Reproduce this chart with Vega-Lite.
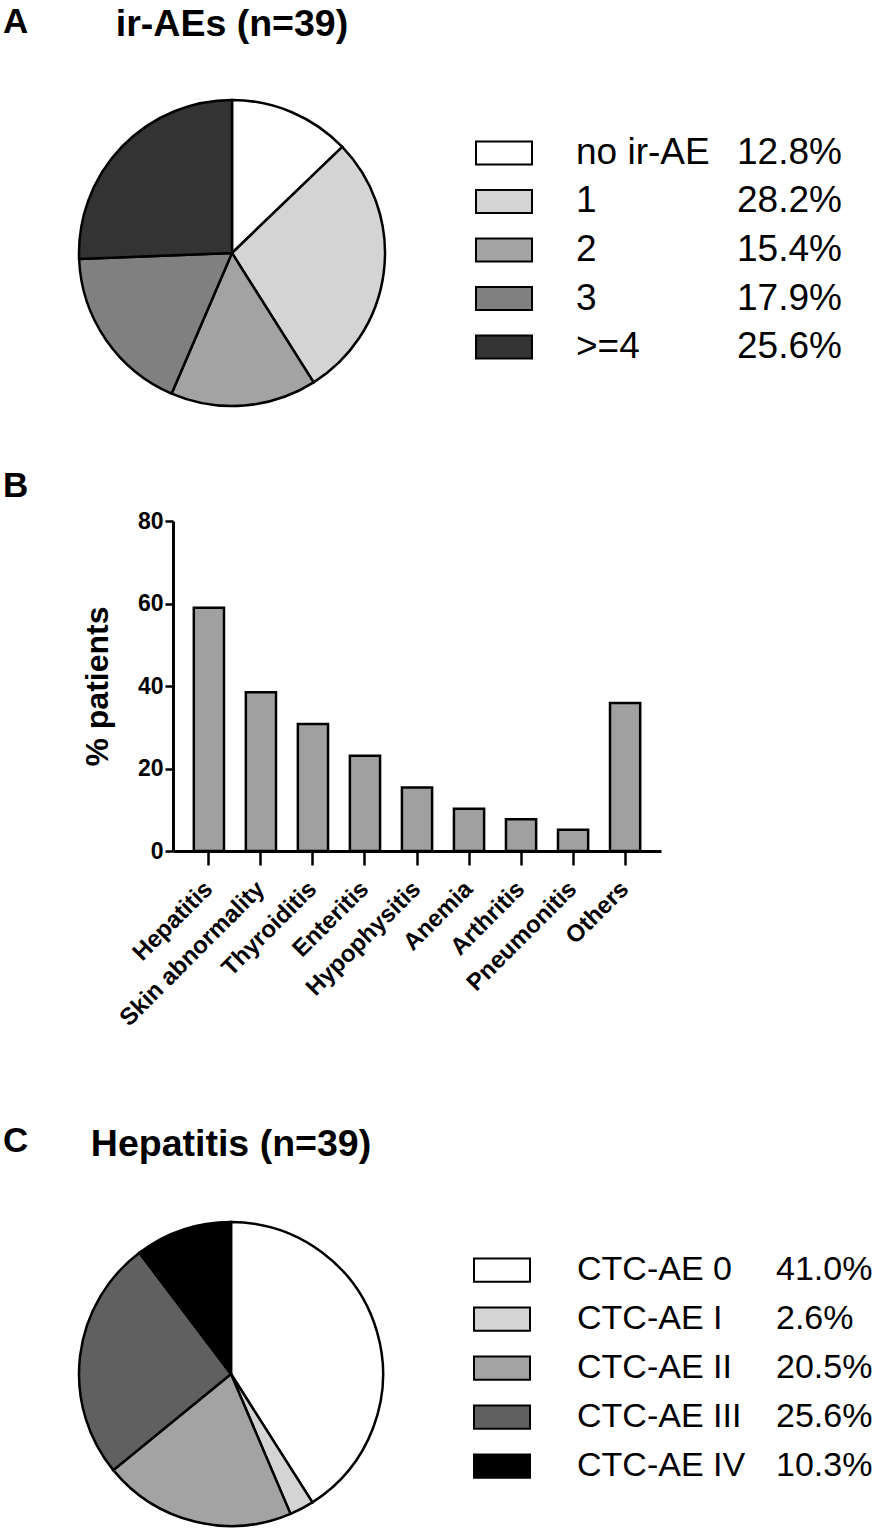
{
  "$schema": "https://vega.github.io/schema/vega-lite/v6.json",
  "background": "white",
  "padding": {"left": 3, "top": 5, "right": 0, "bottom": 0},
  "config": {
    "view": {"stroke": null},
    "font": "Liberation Sans",
    "title": {"color": "black"}
  },
  "resolve": {"scale": {"color": "independent"}},
  "spacing": 93,
  "vconcat": [
    {
      "spacing": 58,
      "resolve": {"scale": {"color": "independent"}},
      "vconcat": [
        {
          "spacing": 20,
          "resolve": {"scale": {"color": "independent"}},
          "hconcat": [
            {
              "width": 51, "height": 10,
              "title": {"text": "A", "anchor": "start", "fontSize": 35, "fontWeight": "bold", "offset": 60},
              "data": {"values": []},
              "mark": "text"
            },
            {
              "width": 306, "height": 306,
              "title": {"text": "ir-AEs (n=39)", "anchor": "middle", "fontSize": 37.5, "fontWeight": "bold", "offset": 52},
              "data": {"values": [
                {"cat": "no ir-AE", "pct": 12.8, "idx": 1},
                {"cat": "1", "pct": 28.2, "idx": 2},
                {"cat": "2", "pct": 15.4, "idx": 3},
                {"cat": "3", "pct": 17.9, "idx": 4},
                {"cat": ">=4", "pct": 25.6, "idx": 5}
              ]},
              "mark": {"type": "arc", "outerRadius": 153, "stroke": "black", "strokeWidth": 2.5},
              "encoding": {
                "theta": {"field": "pct", "type": "quantitative", "stack": true},
                "order": {"field": "idx", "type": "quantitative"},
                "color": {"field": "cat", "type": "nominal", "legend": null,
                  "scale": {"domain": ["no ir-AE", "1", "2", "3", ">=4"], "range": ["#ffffff", "#d4d4d4", "#a3a3a3", "#808080", "#333333"]}}
              }
            },
            {
              "width": 471, "height": 306,
              "data": {"values": [
                {"cat": "no ir-AE", "pctText": "12.8%"},
                {"cat": "1", "pctText": "28.2%"},
                {"cat": "2", "pctText": "15.4%"},
                {"cat": "3", "pctText": "17.9%"},
                {"cat": ">=4", "pctText": "25.6%"}
              ]},
              "encoding": {
                "y": {"field": "cat", "type": "nominal", "axis": null,
                  "scale": {"domain": ["no ir-AE", "1", "2", "3", ">=4"], "range": [41.5, 258.5], "paddingInner": 0.526, "paddingOuter": 0}}
              },
              "layer": [
                {
                  "mark": {"type": "rect", "stroke": "black", "strokeWidth": 2},
                  "encoding": {
                    "x": {"value": 66}, "x2": {"value": 122},
                    "color": {"field": "cat", "type": "nominal", "legend": null,
                      "scale": {"domain": ["no ir-AE", "1", "2", "3", ">=4"], "range": ["#ffffff", "#d4d4d4", "#a3a3a3", "#808080", "#333333"]}}
                  }
                },
                {
                  "mark": {"type": "text", "align": "left", "baseline": "middle", "fontSize": 37, "color": "black"},
                  "encoding": {"x": {"value": 166}, "text": {"field": "cat"}}
                },
                {
                  "mark": {"type": "text", "align": "left", "baseline": "middle", "fontSize": 37, "color": "black"},
                  "encoding": {"x": {"value": 327}, "text": {"field": "pctText"}}
                }
              ]
            }
          ]
        },
        {
          "title": {"text": "B", "anchor": "start", "fontSize": 35, "fontWeight": "bold", "offset": 6},
          "spacing": 0,
          "hconcat": [
            {
              "width": 78, "height": 10,
              "data": {"values": []},
              "mark": "text"
            },
            {
              "width": 488, "height": 330,
              "data": {"values": [
                {"ae": "Hepatitis", "pct": 58.97},
                {"ae": "Skin abnormality", "pct": 38.46},
                {"ae": "Thyroiditis", "pct": 30.77},
                {"ae": "Enteritis", "pct": 23.08},
                {"ae": "Hypophysitis", "pct": 15.38},
                {"ae": "Anemia", "pct": 10.26},
                {"ae": "Arthritis", "pct": 7.69},
                {"ae": "Pneumonitis", "pct": 5.13},
                {"ae": "Others", "pct": 35.9}
              ]},
              "mark": {"type": "bar", "fill": "#a0a0a0", "stroke": "black", "strokeWidth": 2.5},
              "encoding": {
                "x": {"field": "ae", "type": "nominal", "sort": null,
                  "scale": {"paddingInner": 0.42, "paddingOuter": 0.4},
                  "axis": {"title": null, "labelAngle": -45, "labelAlign": "right", "labelBaseline": "middle", "labelLimit": 0,
                    "labelFontSize": 24, "labelFontWeight": "bold", "labelColor": "black",
                    "domainColor": "black", "domainWidth": 3, "tickColor": "black", "tickWidth": 2.5, "tickSize": 14, "labelPadding": 20}},
                "y": {"field": "pct", "type": "quantitative",
                  "scale": {"domain": [0, 80], "nice": false},
                  "axis": {"values": [0, 20, 40, 60, 80], "title": "% patients", "titleFontSize": 32, "titleFontWeight": "bold", "titleColor": "black",
                    "titlePadding": 23, "labelFontSize": 23, "labelFontWeight": "bold", "labelColor": "black", "labelPadding": 2,
                    "tickSize": 8, "tickWidth": 2.5, "tickColor": "black", "domainWidth": 3, "domainColor": "black", "grid": false}}
              }
            }
          ]
        }
      ]
    },
    {
      "spacing": 20,
      "resolve": {"scale": {"color": "independent"}},
      "hconcat": [
        {
          "width": 51, "height": 10,
          "title": {"text": "C", "anchor": "start", "fontSize": 35, "fontWeight": "bold", "offset": 62},
          "data": {"values": []},
          "mark": "text"
        },
        {
          "width": 306, "height": 306,
          "title": {"text": "Hepatitis (n=39)", "anchor": "middle", "fontSize": 37.5, "fontWeight": "bold", "offset": 54},
          "data": {"values": [
            {"cat": "CTC-AE 0", "pct": 41.0, "idx": 1},
            {"cat": "CTC-AE I", "pct": 2.6, "idx": 2},
            {"cat": "CTC-AE II", "pct": 20.5, "idx": 3},
            {"cat": "CTC-AE III", "pct": 25.6, "idx": 4},
            {"cat": "CTC-AE IV", "pct": 10.3, "idx": 5}
          ]},
          "mark": {"type": "arc", "outerRadius": 152, "stroke": "black", "strokeWidth": 2.5},
          "encoding": {
            "theta": {"field": "pct", "type": "quantitative", "stack": true},
            "order": {"field": "idx", "type": "quantitative"},
            "color": {"field": "cat", "type": "nominal", "legend": null,
              "scale": {"domain": ["CTC-AE 0", "CTC-AE I", "CTC-AE II", "CTC-AE III", "CTC-AE IV"], "range": ["#ffffff", "#d4d4d4", "#a3a3a3", "#606060", "#000000"]}}
          }
        },
        {
          "width": 471, "height": 306,
          "data": {"values": [
            {"cat": "CTC-AE 0", "pctText": "41.0%"},
            {"cat": "CTC-AE I", "pctText": "2.6%"},
            {"cat": "CTC-AE II", "pctText": "20.5%"},
            {"cat": "CTC-AE III", "pctText": "25.6%"},
            {"cat": "CTC-AE IV", "pctText": "10.3%"}
          ]},
          "encoding": {
            "y": {"field": "cat", "type": "nominal", "axis": null,
              "scale": {"domain": ["CTC-AE 0", "CTC-AE I", "CTC-AE II", "CTC-AE III", "CTC-AE IV"], "range": [37.5, 256.7], "paddingInner": 0.526, "paddingOuter": 0}}
          },
          "layer": [
            {
              "mark": {"type": "rect", "stroke": "black", "strokeWidth": 2},
              "encoding": {
                "x": {"value": 66}, "x2": {"value": 122},
                "color": {"field": "cat", "type": "nominal", "legend": null,
                  "scale": {"domain": ["CTC-AE 0", "CTC-AE I", "CTC-AE II", "CTC-AE III", "CTC-AE IV"], "range": ["#ffffff", "#d4d4d4", "#a3a3a3", "#606060", "#000000"]}}
              }
            },
            {
              "mark": {"type": "text", "align": "left", "baseline": "middle", "fontSize": 34, "color": "black"},
              "encoding": {"x": {"value": 169}, "text": {"field": "cat"}}
            },
            {
              "mark": {"type": "text", "align": "left", "baseline": "middle", "fontSize": 34, "color": "black"},
              "encoding": {"x": {"value": 368}, "text": {"field": "pctText"}}
            }
          ]
        }
      ]
    }
  ]
}
